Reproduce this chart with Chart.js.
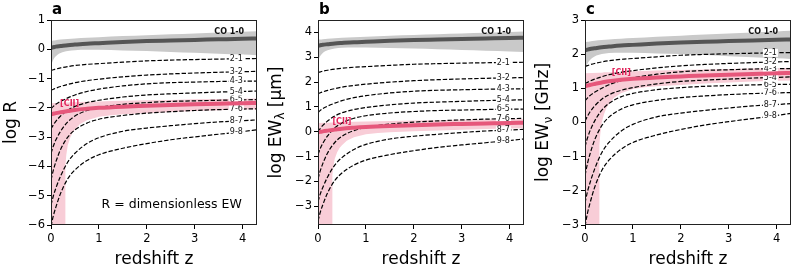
<!DOCTYPE html>
<html>
<head>
<meta charset="utf-8">
<script src="https://cdn.jsdelivr.net/npm/chart.js@4.4.0/dist/chart.umd.min.js"></script>
<style>
  body { margin: 0; background: #fff; width: 793px; height: 270px; overflow: hidden; position: relative; }
  .panel { position: absolute; top: 0; height: 270px; }
</style>
</head>
<body>
<div class="panel" style="left:0px"><canvas id="ca" width="259" height="270"></canvas></div>
<div class="panel" style="left:265px"><canvas id="cb" width="261" height="270"></canvas></div>
<div class="panel" style="left:532px"><canvas id="cc" width="261" height="270"></canvas></div>
<script>
// --- DATA (log R) ---
const zGrid = [0, 0.05, 0.1, 0.2, 0.35, 0.5, 0.75, 1, 1.5, 2, 2.5, 3, 3.5, 4, 4.3];

const coLine  = [0.05, 0.07, 0.09, 0.11, 0.14, 0.16, 0.19, 0.21, 0.25, 0.28, 0.30, 0.32, 0.34, 0.36, 0.37];
const coUpper = [0.29, 0.30, 0.31, 0.33, 0.35, 0.37, 0.39, 0.41, 0.45, 0.48, 0.51, 0.54, 0.57, 0.60, 0.62];
const coLower = [-0.55, -0.35, -0.24, -0.13, -0.06, -0.03, -0.02, -0.02, -0.04, -0.06, -0.09, -0.12, -0.15, -0.18, -0.20];

const r21 = [-0.72, -0.70, -0.675, -0.635, -0.59, -0.555, -0.515, -0.49, -0.44, -0.395, -0.37, -0.35, -0.335, -0.32, -0.315];
const r32 = [-1.40, -1.365, -1.33, -1.27, -1.20, -1.14, -1.07, -1.02, -0.94, -0.88, -0.84, -0.81, -0.785, -0.765, -0.755];
const r43 = [-2.03, -1.95, -1.88, -1.78, -1.66, -1.56, -1.44, -1.36, -1.25, -1.18, -1.14, -1.12, -1.10, -1.09, -1.085];
const r54 = [-2.72, -2.58, -2.46, -2.28, -2.08, -1.95, -1.82, -1.74, -1.63, -1.56, -1.52, -1.49, -1.46, -1.44, -1.425];
const r65 = [-3.55, -3.30, -3.10, -2.80, -2.48, -2.28, -2.09, -1.99, -1.88, -1.82, -1.78, -1.76, -1.74, -1.725, -1.72];
const r76 = [-4.46, -4.12, -3.85, -3.42, -3.00, -2.75, -2.52, -2.39, -2.26, -2.18, -2.13, -2.09, -2.06, -2.04, -2.03];
const r87 = [-5.32, -5.00, -4.75, -4.33, -3.85, -3.55, -3.22, -3.02, -2.80, -2.69, -2.61, -2.54, -2.48, -2.44, -2.41];
const r98 = [-6.05, -5.68, -5.40, -4.92, -4.42, -4.12, -3.80, -3.60, -3.38, -3.22, -3.09, -2.99, -2.90, -2.81, -2.75];
const jLabels = ['2-1', '3-2', '4-3', '5-4', '6-5', '7-6', '8-7', '9-8'];
const jCurves = [r21, r32, r43, r54, r65, r76, r87, r98];

const ciiLine  = [-2.22, -2.20, -2.18, -2.15, -2.11, -2.07, -2.03, -2.00, -1.96, -1.93, -1.90, -1.88, -1.86, -1.84, -1.83];
const bandZ    = [0, 0.3, 0.3, 0.32, 0.35, 0.4, 0.45, 0.5, 0.6, 0.75, 1, 1.25, 1.5, 2, 2.5, 3, 3.5, 4, 4.3];
const ciiUpper = [-1.84, -1.82, -1.82, -1.82, -1.82, -1.81, -1.81, -1.81, -1.80, -1.79, -1.78, -1.77, -1.76, -1.74, -1.73, -1.71, -1.70, -1.69, -1.68];
const ciiLower = [-10, -10, -3.95, -3.6, -3.28, -3.02, -2.85, -2.74, -2.56, -2.42, -2.30, -2.25, -2.22, -2.18, -2.14, -2.11, -2.08, -2.06, -2.05];

// rest-frame log wavelength [um] / log frequency [GHz]: CO 1-0 ... 9-8, then [CII]
const logLamRest = [3.415, 3.114, 2.938, 2.813, 2.716, 2.637, 2.570, 2.512, 2.461, 2.198];
const logNuRest  = [2.062, 2.363, 2.539, 2.664, 2.761, 2.840, 2.907, 2.965, 3.016, 3.279];
const noOffset   = [0, 0, 0, 0, 0, 0, 0, 0, 0, 0];

const xTicks  = [0, 1, 2, 3, 4];
const yTicksA = [-6, -5, -4, -3, -2, -1, 0, 1];
const yTicksB = [-3, -2, -1, 0, 1, 2, 3, 4];
const yTicksC = [-3, -2, -1, 0, 1, 2, 3];

Chart.defaults.font.family = '"DejaVu Sans"';
Chart.defaults.color = '#000';

const GRAY_BAND = '#c9c9c9';
const GRAY_LINE = '#555555';
const PINK_BAND = '#f8cdd7';
const PINK_LINE = '#e6577b';
const PINK_TEXT = '#e2255c';

function pts(zs, vals, off) {
  return zs.map((z, i) => ({ x: z, y: vals[i] + off }));
}

function valueAt(data, z) {
  for (let i = 1; i < data.length; i++) {
    if (data[i].x >= z) {
      const a = data[i - 1], b = data[i];
      return a.y + (b.y - a.y) * (z - a.x) / (b.x - a.x);
    }
  }
  return data[data.length - 1].y;
}

const fmt = v => (v < 0 ? '\u2212' + Math.abs(v) : String(v));

const decor = {
  id: 'decor',
  afterDatasetDraw(chart, args) {
    const ds = chart.data.datasets[args.index];
    if (!ds.lineLabel) return;
    const { ctx, scales: { x, y } } = chart;
    const z = 3.87;
    const px = x.getPixelForValue(z);
    const py = y.getPixelForValue(valueAt(ds.data, z));
    ctx.save();
    ctx.font = '8px "DejaVu Sans"';
    const w = ctx.measureText(ds.lineLabel).width;
    ctx.fillStyle = '#fff';
    ctx.fillRect(px - w / 2 - 1, py - 4, w + 2, 8);
    ctx.fillStyle = '#111';
    ctx.textAlign = 'center';
    ctx.textBaseline = 'middle';
    ctx.fillText(ds.lineLabel, px, py);
    ctx.restore();
  },
  afterDraw(chart, args, opts) {
    const { ctx, chartArea: a, scales: { x, y } } = chart;
    ctx.save();
    // frame
    ctx.strokeStyle = '#222';
    ctx.lineWidth = 1;
    ctx.strokeRect(Math.round(a.left) + 0.5, Math.round(a.top) + 0.5,
                   Math.round(a.right - a.left) - 1, Math.round(a.bottom - a.top) - 1);

    // panel letter
    ctx.fillStyle = '#000';
    ctx.font = 'bold 15px "DejaVu Sans"';
    ctx.textAlign = 'left';
    ctx.textBaseline = 'alphabetic';
    ctx.fillText(opts.letter, a.left + 1, 14);

    // x title
    ctx.font = '17px "DejaVu Sans"';
    ctx.textAlign = 'center';
    ctx.fillText('redshift z', (a.left + a.right) / 2, 264);

    // y title with optional subscript
    const fs = 17;
    const parts = opts.yTitle;
    let total = 0;
    parts.forEach(p => {
      ctx.font = (p[1] * fs) + 'px "DejaVu Sans"';
      p.w = ctx.measureText(p[0]).width;
      total += p.w;
    });
    ctx.translate(opts.titleX, (a.top + a.bottom) / 2);
    ctx.rotate(-Math.PI / 2);
    ctx.textAlign = 'left';
    let cx = -total / 2;
    parts.forEach(p => {
      ctx.font = (p[1] * fs) + 'px "DejaVu Sans"';
      ctx.fillText(p[0], cx, p[2] ? fs * 0.22 : 0);
      cx += p.w;
    });
    ctx.setTransform(1, 0, 0, 1, 0, 0);

    // CO 1-0 label
    ctx.font = 'bold 8px "DejaVu Sans"';
    ctx.textAlign = 'center';
    ctx.textBaseline = 'middle';
    ctx.fillStyle = '#111';
    ctx.fillText('CO 1-0', x.getPixelForValue(3.72), y.getPixelForValue(0.6 + opts.off[0]));

    // [CII] label
    ctx.fillStyle = PINK_TEXT;
    ctx.fillText('[CII]', x.getPixelForValue(opts.cii[0]), y.getPixelForValue(opts.cii[1] + opts.off[9]));

    if (opts.note) {
      ctx.fillStyle = '#000';
      ctx.font = '12.5px "DejaVu Sans"';
      ctx.textBaseline = 'alphabetic';
      ctx.fillText('R = dimensionless EW', x.getPixelForValue(2.52), y.getPixelForValue(-5.42));
    }
    ctx.restore();
  }
};

const panels = [
  { id: 'ca', letter: 'a', off: noOffset,   yMin: -6,    yMax: 1,   yTicks: yTicksA, axisW: 51,
    yTitle: [['log R', 1]], titleX: 15.5, cii: [0.39, -1.87], note: true },
  { id: 'cb', letter: 'b', off: logLamRest, yMin: -3.75, yMax: 4.5, yTicks: yTicksB, axisW: 53,
    yTitle: [['log EW', 1], ['\u03bb', 0.7, 1], [' [\u03bcm]', 1]], titleX: 15.5, cii: [0.5, -1.80] },
  { id: 'cc', letter: 'c', off: logNuRest,  yMin: -3,    yMax: 3,   yTicks: yTicksC, axisW: 53,
    yTitle: [['log EW', 1], ['\u03bd', 0.7, 1], [' [GHz]', 1]], titleX: 16, cii: [0.76, -1.83] }
];

panels.forEach(p => {
  const datasets = [
    { data: pts(zGrid, coUpper, p.off[0]), fill: 1, backgroundColor: GRAY_BAND, borderWidth: 0, order: 20,
      cubicInterpolationMode: 'monotone' },
    { data: pts(zGrid, coLower, p.off[0]), fill: false, borderWidth: 0, order: 20,
      cubicInterpolationMode: 'monotone' },
    { data: pts(bandZ, ciiUpper, p.off[9]), fill: 3, backgroundColor: PINK_BAND, borderWidth: 0, order: 19, tension: 0 },
    { data: pts(bandZ, ciiLower, p.off[9]), fill: false, borderWidth: 0, order: 19, tension: 0 }
  ];
  jCurves.forEach((c, i) => {
    datasets.push({
      data: pts(zGrid, c, p.off[i + 1]),
      borderColor: '#000', borderWidth: 1.2, borderDash: [4.4, 1.9],
      cubicInterpolationMode: 'monotone', fill: false, order: 10,
      lineLabel: jLabels[i]
    });
  });
  datasets.push({ data: pts(zGrid, coLine, p.off[0]), borderColor: GRAY_LINE, borderWidth: 4,
                  cubicInterpolationMode: 'monotone', fill: false, order: 2 });
  datasets.push({ data: pts(zGrid, ciiLine, p.off[9]), borderColor: PINK_LINE, borderWidth: 4,
                  cubicInterpolationMode: 'monotone', fill: false, order: 1 });

  new Chart(document.getElementById(p.id), {
    type: 'line',
    data: { datasets },
    options: {
      responsive: false,
      animation: false,
      devicePixelRatio: 1,
      layout: { padding: { top: 20, right: 2, bottom: 0, left: 0 } },
      elements: { point: { radius: 0 } },
      plugins: {
        legend: { display: false },
        tooltip: { enabled: false },
        decor: { letter: p.letter, yTitle: p.yTitle, titleX: p.titleX, off: p.off, cii: p.cii, note: p.note }
      },
      scales: {
        x: {
          type: 'linear', min: 0, max: 4.3,
          afterBuildTicks: s => { s.ticks = xTicks.map(v => ({ value: v })); },
          afterFit: s => { s.height = 45; },
          ticks: { font: { size: 11.5 }, color: '#000', padding: 3, maxRotation: 0, callback: fmt },
          grid: { display: true, drawOnChartArea: false, drawTicks: true, tickLength: 4, tickColor: '#000' },
          border: { display: false }
        },
        y: {
          type: 'linear', min: p.yMin, max: p.yMax,
          afterBuildTicks: s => { s.ticks = p.yTicks.map(v => ({ value: v })); },
          afterFit: s => { s.width = p.axisW; },
          ticks: { font: { size: 11.5 }, color: '#000', padding: 2, callback: fmt },
          grid: { display: true, drawOnChartArea: false, drawTicks: true, tickLength: 4, tickColor: '#000' },
          border: { display: false }
        }
      }
    },
    plugins: [decor]
  });
});
</script>
</body>
</html>
